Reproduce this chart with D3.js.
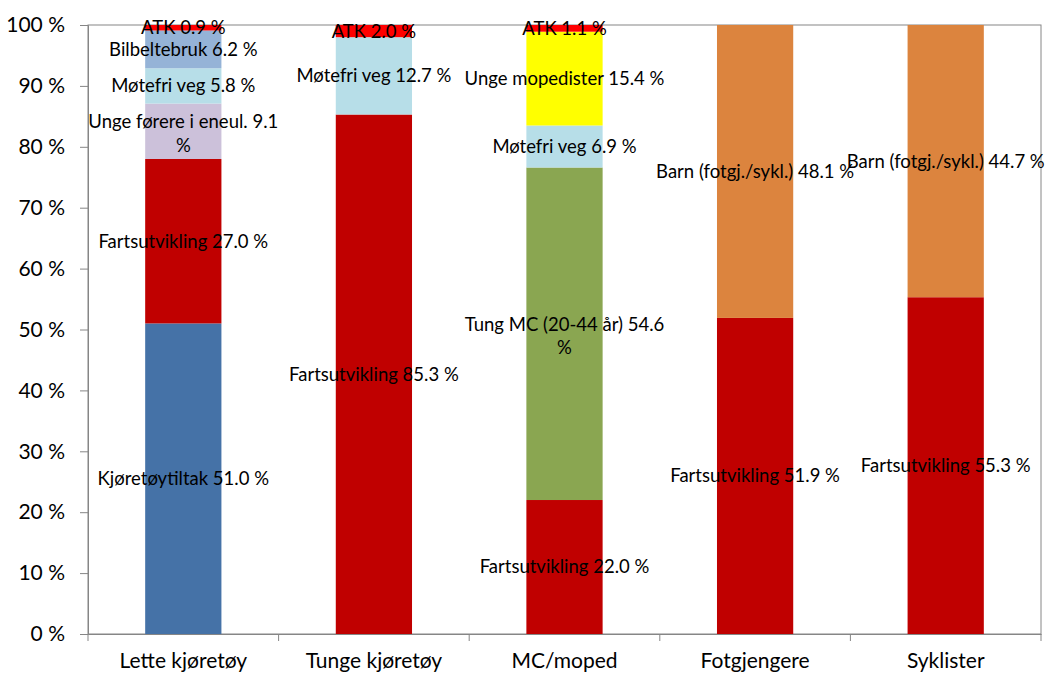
<!DOCTYPE html>
<html>
<head>
<meta charset="utf-8">
<script src="https://cdn.jsdelivr.net/npm/d3@7"></script>
<style>
  html, body { margin: 0; padding: 0; background: #fff; }
  svg text { font-family: Lato, "Open Sans", sans-serif; fill: #000; }
</style>
</head>
<body>
<svg id="chart" width="1049" height="675"></svg>
<script>
// Road-safety measures: share of effect per road-user group (stacked to 100 %)
const categories = ["Lette kjøretøy", "Tunge kjøretøy", "MC/moped", "Fotgjengere", "Syklister"];

// Segments per group, bottom to top
const segLette  = [["Kjøretøytiltak", 51.0], ["Fartsutvikling", 27.0], ["Unge førere i eneul.", 9.1], ["Møtefri veg", 5.8], ["Bilbeltebruk", 6.2], ["ATK", 0.9]];
const segTunge  = [["Fartsutvikling", 85.3], ["Møtefri veg", 12.7], ["ATK", 2.0]];
const segMC     = [["Fartsutvikling", 22.0], ["Tung MC (20-44 år)", 54.6], ["Møtefri veg", 6.9], ["Unge mopedister", 15.4], ["ATK", 1.1]];
const segFotg   = [["Fartsutvikling", 51.9], ["Barn (fotgj./sykl.)", 48.1]];
const segSykl   = [["Fartsutvikling", 55.3], ["Barn (fotgj./sykl.)", 44.7]];
const segments  = [segLette, segTunge, segMC, segFotg, segSykl];

const yTicks = [0, 10, 20, 30, 40, 50, 60, 70, 80, 90, 100];

// Measure colours
const measureColors = {
  "Kjøretøytiltak": "#4572a7",
  "Fartsutvikling": "#c00000",
  "Unge førere i eneul.": "#ccc1da",
  "Møtefri veg": "#b7dee8",
  "Bilbeltebruk": "#95b3d7",
  "ATK": "#ff0000",
  "Tung MC (20-44 år)": "#8aa651",
  "Unge mopedister": "#ffff00",
  "Barn (fotgj./sykl.)": "#dc843e"
};
// Labels that break before the percent sign
const wrappedLabels = ["Unge førere i eneul.", "Tung MC (20-44 år)"];

const svg = d3.select("#chart");
const margin = { top: 25, right: 8, bottom: 41, left: 88 };
const W = 1049, H = 675;
const iw = W - margin.left - margin.right;
const ih = H - margin.top - margin.bottom;
const g = svg.append("g").attr("transform", `translate(${margin.left},${margin.top})`);

const x = d3.scaleBand().domain(categories).range([0, iw]).paddingInner(0.6).paddingOuter(0.3);
const xCat = d3.scaleBand().domain(categories).range([0, iw]);
const y = d3.scaleLinear().domain([0, 100]).range([ih, 0]);

// Plot frame (top and right edges)
g.append("rect").attr("x", 0).attr("y", 0).attr("width", iw).attr("height", ih)
  .attr("fill", "none").attr("stroke", "#868686").attr("stroke-width", 1);

// Stacked segments
const rows = [];
segments.forEach((segs, i) => {
  let acc = 0;
  segs.forEach(([name, v]) => {
    rows.push({ cat: categories[i], name, v, y0: acc, y1: acc + v });
    acc += v;
  });
});

g.selectAll("rect.seg").data(rows).enter().append("rect")
  .attr("class", "seg")
  .attr("x", d => x(d.cat))
  .attr("width", x.bandwidth())
  .attr("y", d => y(d.y1))
  .attr("height", d => y(d.y0) - y(d.y1))
  .attr("fill", d => measureColors[d.name]);

// Y axis
const yAxis = d3.axisLeft(y).tickValues(yTicks).tickFormat(d => d + " %").tickSize(8).tickPadding(15);
const ya = g.append("g").call(yAxis);
ya.select(".domain").attr("stroke", "#868686");
ya.selectAll(".tick line").attr("stroke", "#868686");
ya.selectAll(".tick text").style("font-size", "21px").attr("fill", "#000");

// X axis
const xAxis = d3.axisBottom(xCat).tickSize(0).tickPadding(19);
const xa = g.append("g").attr("transform", `translate(0,${ih})`).call(xAxis);
xa.select(".domain").attr("stroke", "#868686");
xa.selectAll(".tick text").style("font-size", "21px").attr("fill", "#000");
// Category boundary ticks
const bounds = categories.map(c => xCat(c)).concat([iw]);
xa.selectAll("line.bound").data(bounds).enter().append("line")
  .attr("class", "bound")
  .attr("x1", d => d).attr("x2", d => d)
  .attr("y1", 0).attr("y2", 7)
  .attr("stroke", "#868686");

// Segment labels
const labels = g.selectAll("text.lbl").data(rows).enter().append("text")
  .attr("class", "lbl")
  .attr("text-anchor", "middle")
  .style("font-size", "18.5px")
  .attr("x", d => x(d.cat) + x.bandwidth() / 2)
  .attr("y", d => y((d.y0 + d.y1) / 2));

labels.each(function(d) {
  const t = d3.select(this);
  const val = d.v.toFixed(1);
  if (wrappedLabels.includes(d.name)) {
    t.append("tspan").attr("x", t.attr("x")).attr("dy", "-0.15em").text(`${d.name} ${val}`);
    t.append("tspan").attr("x", t.attr("x")).attr("dy", "1.25em").text("%");
  } else {
    t.attr("dy", "0.35em").text(`${d.name} ${val} %`);
  }
});
</script>
</body>
</html>
